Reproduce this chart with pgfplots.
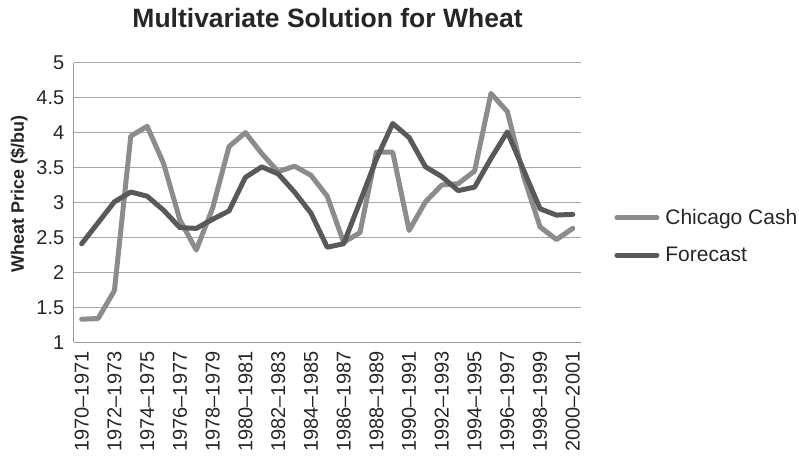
\documentclass[border=0pt]{standalone}
\usepackage{pgfplots}
\pgfplotsset{compat=1.18}
\usepackage{fontspec}
\setmainfont{Liberation Sans}

\definecolor{cashgray}{HTML}{8C8C8C}
\definecolor{fcdark}{HTML}{595959}
\definecolor{gridgray}{HTML}{A8A8A8}
\definecolor{axisgray}{HTML}{999999}

% Wheat prices ($/bu), crop years 1970-1971 (0) through 2000-2001 (30)
\usepackage{pgfplotstable}
\pgfplotstableread{
i cash forecast
0  1.33 2.41
1  1.34 2.71
2  1.74 3.01
3  3.95 3.15
4  4.09 3.09
5  3.56 2.89
6  2.75 2.64
7  2.32 2.63
8  2.92 2.76
9  3.80 2.88
10 4.00 3.36
11 3.70 3.51
12 3.44 3.41
13 3.52 3.15
14 3.39 2.85
15 3.09 2.36
16 2.43 2.41
17 2.57 3.01
18 3.72 3.62
19 3.72 4.13
20 2.60 3.93
21 3.01 3.51
22 3.25 3.37
23 3.27 3.17
24 3.45 3.22
25 4.56 3.63
26 4.30 4.01
27 3.37 3.46
28 2.65 2.91
29 2.47 2.82
30 2.63 2.83
}\wheat

\begin{document}
\begin{tikzpicture}
\path[use as bounding box] (0bp,0bp) rectangle (799bp,460bp);
\begin{axis}[
  at={(73.5bp,117.7bp)}, anchor=south west,
  scale only axis, width=507.5bp, height=279.6bp,
  xmin=-0.5, xmax=30.5, ymin=1, ymax=5,
  axis x line*=bottom, axis y line*=left,
  axis line style={-, draw=axisgray, line width=1bp},
  major tick length=0pt,
  ytick={1,1.5,2,2.5,3,3.5,4,4.5,5},
  xtick={0,2,...,30},
  xticklabels={1970--1971,1972--1973,1974--1975,1976--1977,1978--1979,
    1980--1981,1982--1983,1984--1985,1986--1987,1988--1989,1990--1991,
    1992--1993,1994--1995,1996--1997,1998--1999,2000--2001},
  /pgf/number format/assume math mode=true,
  tick label style={font=\fontsize{20bp}{24bp}\selectfont, text=black!85},
  yticklabel style={anchor=east, inner xsep=9bp, inner ysep=0pt},
  xticklabel style={rotate=90, anchor=east, inner xsep=9bp, inner ysep=0pt},
  ymajorgrids, grid style={draw=gridgray, line width=1bp},
  title={Multivariate Solution for Wheat},
  every axis title shift/.style={},
  title style={font=\bfseries\fontsize{26.5bp}{30bp}\selectfont, text=black!85,
    at={(axis description cs:0.5005,1.105)}, anchor=base, inner sep=0pt},
  ylabel={Wheat Price (\$/bu)},
  ylabel style={font=\bfseries\fontsize{18bp}{21bp}\selectfont, text=black!85,
    at={(axis description cs:-0.1074,0.53)}, anchor=center},
  legend style={draw=none, fill=none, at={(1.0654,0.379)}, anchor=west,
    font=\fontsize{21bp}{25bp}\selectfont, text=black!85,
    inner sep=0pt, nodes={inner sep=0pt}, row sep=21bp,
    /tikz/every odd column/.append style={column sep=6bp}},
  legend cell align=left,
  legend image code/.code={\draw[#1, line cap=round] (0bp,0bp) -- (40bp,0bp);},
  every axis plot/.append style={line width=5bp, line join=round, line cap=round},
]
\addplot[cashgray] table[x=i, y=cash] {\wheat};
\addlegendentry{Chicago Cash}
\addplot[fcdark] table[x=i, y=forecast] {\wheat};
\addlegendentry{Forecast}
\end{axis}
\end{tikzpicture}
\end{document}
